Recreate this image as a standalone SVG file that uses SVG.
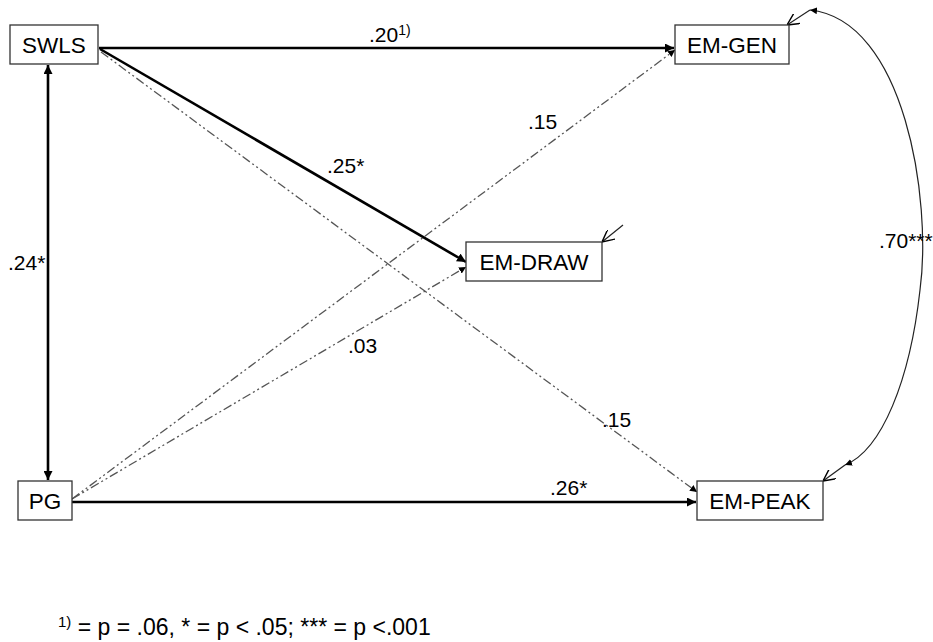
<svg xmlns="http://www.w3.org/2000/svg" width="933" height="642" viewBox="0 0 933 642">
<style>
.box{fill:#fff;stroke:#333;stroke-width:1.3}
.nt{font-family:"Liberation Sans",Arial,sans-serif;font-size:22.5px;fill:#000}
.lb{font-family:"Liberation Sans",Arial,sans-serif;font-size:21px;fill:#000}
.fn{font-family:"Liberation Sans",Arial,sans-serif;font-size:23px;fill:#000}
.thick{stroke:#000;stroke-width:2.6;fill:none}
.dd{stroke:#555;stroke-width:1.3;fill:none;stroke-dasharray:9 3 2 3 2 3}
.thin{stroke:#222;stroke-width:1.2;fill:none}
</style>
<defs>
<marker id="ahb" viewBox="0 0 10 10" refX="10" refY="5" markerWidth="9" markerHeight="9" orient="auto-start-reverse" markerUnits="userSpaceOnUse"><path d="M0,0 L10,5 L0,10 z" fill="#000"/></marker>
<marker id="ahs" viewBox="0 0 10 10" refX="10" refY="5" markerWidth="7" markerHeight="7" orient="auto-start-reverse" markerUnits="userSpaceOnUse"><path d="M0,0 L10,5 L0,10 z" fill="#000"/></marker>
<marker id="ao" viewBox="0 0 10 10" refX="10" refY="5" markerWidth="12" markerHeight="12" orient="auto" markerUnits="userSpaceOnUse"><path d="M0,0 L10,5 L0,10" fill="none" stroke="#000" stroke-width="1.2"/></marker>
</defs>
<g id="connectors">
<line class="thick" x1="99" y1="48" x2="674" y2="48" marker-end="url(#ahb)"/>
<line class="thick" x1="100" y1="49" x2="466" y2="262" marker-end="url(#ahb)"/>
<line class="dd" x1="101" y1="52" x2="697" y2="492" marker-end="url(#ahs)"/>
<line class="dd" x1="72" y1="499" x2="675" y2="50" marker-end="url(#ahs)"/>
<line class="dd" x1="72" y1="499" x2="466" y2="267" marker-end="url(#ahs)"/>
<line class="thick" x1="72" y1="502" x2="696" y2="502" marker-end="url(#ahb)"/>
<line class="thick" x1="48" y1="65" x2="48" y2="480" marker-start="url(#ahb)" marker-end="url(#ahb)"/>
<path class="thin" d="M810,10 C905,20 932,200 920,290 C910,380 882,450 845,465" marker-start="url(#ahs)" marker-end="url(#ahs)"/>
<line class="thin" x1="810" y1="10" x2="787" y2="25" marker-end="url(#ao)"/>
<line class="thin" x1="845" y1="465" x2="823" y2="481" marker-end="url(#ao)"/>
<line class="thin" x1="623" y1="225" x2="602" y2="242" marker-end="url(#ao)"/>
</g>
<g id="SWLS"><rect class="box" x="10" y="25" width="88" height="39"/><text class="nt" x="54" y="53" text-anchor="middle">SWLS</text></g>
<g id="EM-GEN"><rect class="box" x="675" y="25" width="114" height="39"/><text class="nt" x="732" y="53" text-anchor="middle">EM-GEN</text></g>
<g id="EM-DRAW"><rect class="box" x="466" y="242" width="136" height="39"/><text class="nt" x="534" y="270" text-anchor="middle">EM-DRAW</text></g>
<g id="PG"><rect class="box" x="18" y="481" width="54" height="39"/><text class="nt" x="45" y="509" text-anchor="middle">PG</text></g>
<g id="EM-PEAK"><rect class="box" x="697" y="481" width="126" height="39"/><text class="nt" x="760" y="509" text-anchor="middle">EM-PEAK</text></g>
<g id="labels">
<text class="lb" x="369" y="42">.20<tspan font-size="14" dy="-7">1)</tspan></text>
<text class="lb" x="528" y="129">.15</text>
<text class="lb" x="327" y="173">.25*</text>
<text class="lb" x="8" y="270">.24*</text>
<text class="lb" x="879" y="248">.70***</text>
<text class="lb" x="348" y="353">.03</text>
<text class="lb" x="602" y="427">.15</text>
<text class="lb" x="550" y="495">.26*</text>
<text class="fn" x="58" y="635"><tspan font-size="15" dy="-8">1)</tspan><tspan dy="8"> = p = .06, * = p &lt; .05; *** = p &lt;.001</tspan></text>
</g>
</svg>
